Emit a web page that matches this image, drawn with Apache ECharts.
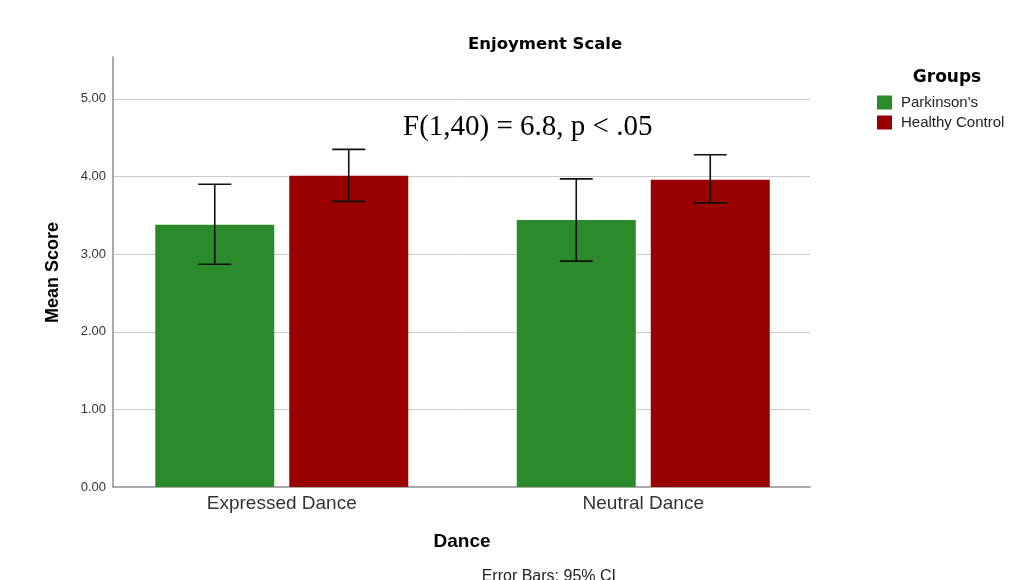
<!DOCTYPE html>
<html>
<head>
<meta charset="utf-8">
<script src="https://cdn.jsdelivr.net/npm/echarts@6/dist/echarts.min.js"></script>
<style>html,body{margin:0;padding:0;background:#fff;}#c{width:1010px;height:580px;}</style>
</head>
<body>
<div id="c"></div>
<script>
const categories = ['Expressed Dance', 'Neutral Dance'];
const seriesNames = ["Parkinson's", 'Healthy Control'];
const parkinsonMeans = [3.38, 3.44];
const controlMeans = [4.01, 3.96];
const parkinsonCI = [[2.87, 3.90], [2.91, 3.97]];
const controlCI = [[3.68, 4.35], [3.66, 4.28]];
const yMin = 0, yMax = 5.54, yInterval = 1;

const GREEN = '#2b8a2b', RED = '#990000';
const BAR_W = 119, BAR_OFF = 67, CAP = 16.5;

function errorSeries(ci, offset) {
  return {
    type: 'custom',
    xAxisIndex: 0, yAxisIndex: 0,
    z: 5, silent: true,
    data: ci.map((d, i) => [i, d[0], d[1]]),
    encode: { x: 0, y: [1, 2] },
    renderItem: function (params, api) {
      const i = api.value(0);
      const lo = api.coord([i, api.value(1)]);
      const hi = api.coord([i, api.value(2)]);
      const x = lo[0] + offset;
      const st = { stroke: '#111', lineWidth: 1.6 };
      return {
        type: 'group',
        children: [
          { type: 'line', shape: { x1: x, y1: hi[1], x2: x, y2: lo[1] }, style: st },
          { type: 'line', shape: { x1: x - CAP, y1: hi[1], x2: x + CAP, y2: hi[1] }, style: st },
          { type: 'line', shape: { x1: x - CAP, y1: lo[1], x2: x + CAP, y2: lo[1] }, style: st }
        ]
      };
    }
  };
}

const chart = echarts.init(document.getElementById('c'), null, { renderer: 'canvas' });
chart.setOption({
  animation: false,
  backgroundColor: '#fff',
  title: {
    text: 'Enjoyment Scale',
    left: 468, top: 36, padding: 0,
    textStyle: { fontFamily: 'DejaVu Sans', fontWeight: 'bold', fontSize: 16.5, color: '#000' }
  },
  legend: {
    orient: 'vertical', left: 877, top: 95, padding: 0,
    itemWidth: 15, itemHeight: 14, itemGap: 5,
    icon: 'rect',
    data: seriesNames,
    textStyle: { fontFamily: 'Liberation Sans', fontSize: 15, color: '#222', padding: [0, 0, 0, 4] }
  },
  grid: [
    { left: 101, right: 186, top: 57, bottom: 93 },
    { left: 113, right: 200, top: 57, bottom: 93 }
  ],
  xAxis: [
    {
      type: 'category', gridIndex: 0, data: categories,
      axisLine: { show: false }, axisTick: { show: false },
      axisLabel: { fontFamily: 'Liberation Sans', fontSize: 19, color: '#333', margin: 7 }
    },
    {
      type: 'category', gridIndex: 1, data: categories,
      axisLine: { show: true, lineStyle: { color: '#8f8f8f', width: 1.5 } },
      axisTick: { show: false }, axisLabel: { show: false }
    }
  ],
  yAxis: [
    {
      type: 'value', gridIndex: 0, min: yMin, max: yMax, interval: yInterval,
      show: false, splitLine: { show: false }
    },
    {
      type: 'value', gridIndex: 1, min: yMin, max: yMax, interval: yInterval,
      axisLine: { show: true, lineStyle: { color: '#8f8f8f', width: 1.5 } },
      axisTick: { show: false },
      axisLabel: {
        fontFamily: 'Liberation Sans', fontSize: 13, color: '#333', margin: 7,
        showMaxLabel: false, padding: [0, 0, 6, 0],
        formatter: v => v.toFixed(2)
      },
      splitLine: { show: true, showMinLine: false, showMaxLine: false, lineStyle: { color: '#cacaca', width: 1 } }
    }
  ],
  series: [
    {
      name: seriesNames[0], type: 'bar', xAxisIndex: 0, yAxisIndex: 0,
      data: parkinsonMeans, barWidth: BAR_W, barGap: '12.6%',
      itemStyle: { color: GREEN }, z: 2
    },
    {
      name: seriesNames[1], type: 'bar', xAxisIndex: 0, yAxisIndex: 0,
      data: controlMeans, barWidth: BAR_W, barGap: '12.6%',
      itemStyle: { color: RED }, z: 2
    },
    errorSeries(parkinsonCI, -BAR_OFF),
    errorSeries(controlCI, BAR_OFF)
  ],
  graphic: [
    { type: 'text', left: 403, top: 113, style: { text: 'F(1,40) = 6.8, p < .05', fontFamily: 'Liberation Serif', fontSize: 29, fill: '#000' } },
    { type: 'text', x: 947, y: 78, style: { text: 'Groups', fontFamily: 'DejaVu Sans', fontWeight: 'bold', fontSize: 17, fill: '#000', align: 'center', verticalAlign: 'middle' } },
    { type: 'text', x: 462, y: 542, style: { text: 'Dance', fontFamily: 'Liberation Sans', fontWeight: 'bold', fontSize: 19, fill: '#000', align: 'center', verticalAlign: 'middle' } },
    { type: 'text', x: 53.5, y: 272.5, rotation: Math.PI / 2, style: { text: 'Mean Score', fontFamily: 'Liberation Sans', fontWeight: 'bold', fontSize: 18, fill: '#000', align: 'center', verticalAlign: 'middle' } },
    { type: 'text', x: 481.7, y: 577, style: { text: 'Error Bars: 95% CI', fontFamily: 'Liberation Sans', fontSize: 16, fill: '#222', align: 'left', verticalAlign: 'middle' } }
  ]
});
</script>
</body>
</html>
